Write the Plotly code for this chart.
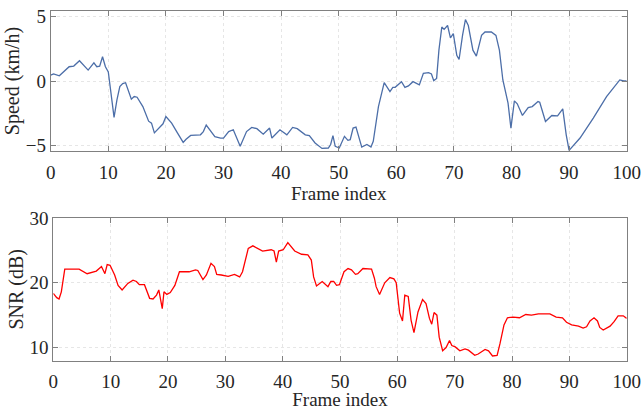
import plotly.graph_objects as go

speed_x = [0, 0.5, 1.5, 2.5, 3.2, 4, 5, 6.5, 7.5, 8, 8.5, 9, 9.5, 10, 10.5, 11, 11.5, 12, 12.5, 13,
           14, 14.5, 15, 16, 17, 17.5, 18, 18.5, 19.5, 20, 21, 22, 23, 23.5, 24.3, 26, 26.5, 27, 28, 28.5,
           29.5, 30, 30.9, 31.7, 32.9, 34, 34.9, 35.8, 36.9, 38, 38.4, 39.8, 41, 42, 42.8, 44.2, 44.9,
           45.9, 47.1, 48.2, 48.6, 49, 49.4, 50.1, 51, 51.6, 52, 52.5, 53, 54, 54.9, 55.6, 56, 56.9,
           57.9, 58.9, 59.4, 59.8, 60.9, 61.5, 62.1, 62.9, 64, 64.7, 65.6, 66.1, 66.5, 67, 67.4, 67.9,
           68.3, 68.9, 69.4, 69.9, 70.5, 70.9, 71.5, 72, 72.5, 73.3, 73.9, 74.8, 75.4, 76.5, 77.3,
           77.9, 78.5, 79.4, 79.9, 80.5, 81, 81.9, 82.9, 83.6, 84.6, 84.9, 85.9, 87, 88, 88.9, 89.5,
           90, 91.9, 94.2, 96.5, 98, 98.8, 99.5, 100]
speed_y = [0.46, 0.54, 0.4, 0.84, 1.1, 1.15, 1.56, 0.84, 1.4, 1.1, 1.15, 1.87, 1.1, 0.7, -0.95, -2.8, -1.45, -0.43, -0.2, -0.13,
           -1.4, -1.2, -1.25, -1.97, -3.1, -3.25, -4.0, -3.75, -3.3, -2.74, -3.25, -4.0, -4.74, -4.5, -4.2, -4.15, -3.9, -3.4, -4.0, -4.3,
           -4.4, -4.4, -3.9, -3.76, -5.04, -3.9, -3.58, -3.68, -4.1, -3.63, -4.4, -3.76, -4.15, -3.58, -3.68, -4.15, -4.22,
           -4.78, -5.2, -5.17, -4.9, -4.22, -5.04, -5.17, -4.27, -4.58, -4.53, -3.63, -3.55, -5.1, -4.9, -5.1, -4.65, -1.97,
           -0.13, -0.82, -0.49, -0.49, -0.05, -0.49, -0.38, -0.05, -0.3, 0.59, 0.64, 0.54, 0.03, 0.2, 2.38, 4.16,
           3.98, 4.28, 3.32, 3.65, 1.98, 1.66, 3.52, 4.74, 4.28, 2.38, 1.92, 3.52, 3.78, 3.78, 3.52,
           2.38, 0.08, -1.71, -3.63, -1.53, -1.76, -2.66, -2.05, -1.97, -1.59, -1.64, -3.12, -2.66, -2.69, -2.15, -4.15,
           -5.35, -4.4, -2.86, -1.2, -0.38, 0.08, 0.0, 0.0]

snr_x = [0, 0.6, 1.0, 1.4, 2.0, 4.5, 5.9, 6.4, 7.5, 8.4, 9.0, 9.4, 9.9, 10.7, 11.3, 12.0, 13.0, 13.9, 14.5, 15.0,
         15.9, 16.8, 17.4, 18.0, 18.4, 19.0, 19.3, 19.8, 20.4, 21.2, 22.0, 23.7, 24.8, 25.2, 26.1, 26.7, 27.5, 28.1,
         28.5, 29.3, 30.5, 31.6, 32.5, 33, 34, 34.8, 36.5, 38, 38.5, 38.9, 39.3, 40.1, 40.9, 42.1, 43.3, 44.4, 45,
         45.4, 45.9, 46.9, 47.9, 48.4, 48.9, 49.4, 49.9, 50.7, 51.4, 52.0, 52.7, 53.1, 54.0, 55.5, 56.0, 56.3, 56.9,
         57.8, 58.7, 59.4, 59.8, 60.4, 60.9, 61.3, 61.9, 62.4, 62.9, 63.6, 64.4, 65.0, 65.6, 66.0, 66.4, 66.9, 67.3,
         67.9, 68.5, 69.1, 69.5, 70.1, 70.9, 71.8, 72.4, 73.5, 74.1, 75.3, 75.9, 76.6, 77.4, 77.9, 78.6, 79.2, 80.2,
         81.3, 82.4, 83.4, 84.6, 86.6, 87.7, 88.8, 89.5, 90.4, 91.6, 92.4, 93.0, 93.6, 94.3, 94.9, 95.3, 95.9, 97.1,
         97.8, 98.5, 99.4, 100]
snr_y = [18.35, 17.7, 17.5, 18.6, 22.1, 22.1, 21.4, 21.5, 21.8, 22.5, 21.4, 22.8, 22.7, 21.2, 19.6, 18.9, 19.9, 20.4, 20.2, 19.7,
         19.7, 17.6, 17.5, 18.1, 18.9, 16.0, 18.6, 18.2, 18.5, 19.6, 21.7, 21.7, 22.0, 21.9, 20.5, 21.2, 23.0, 22.5,
         21.3, 21.2, 21.0, 21.3, 20.9, 21.7, 25.3, 25.7, 24.9, 25.1, 24.9, 23.2, 24.9, 25.1, 26.2, 24.9, 24.4, 24.3, 23.5,
         20.9, 19.5, 20.2, 19.4, 20.2, 20.2, 19.6, 19.7, 21.7, 22.2, 22.0, 21.3, 21.4, 22.2, 22.1, 20.7, 19.4, 18.2,
         20.0, 20.8, 20.6, 20.0, 15.3, 14.1, 18.1, 17.9, 14.2, 12.3, 15.5, 17.4, 16.8, 14.5, 13.6, 15.4, 15.0, 11.6,
         9.5, 10.0, 11.1, 10.3, 10.1, 9.5, 9.8, 9.6, 8.8, 9.0, 9.7, 9.5, 8.7, 8.8, 10.6, 13.5, 14.6, 14.7,
         14.6, 15.1, 15.0, 15.2, 15.2, 14.7, 14.6, 13.9, 13.5, 13.3, 13.0, 13.2, 14.1, 14.6, 14.1, 13.1, 12.7, 13.3,
         14.0, 14.9, 14.9, 14.5]

x_ticks = [0, 10, 20, 30, 40, 50, 60, 70, 80, 90, 100]
speed_ticks = [-5, 0, 5]
snr_ticks = [10, 20, 30]

W, H = 641, 410
FONT = "Liberation Serif, Times New Roman, serif"
AX = "#808080"
TXT = "#262626"
GRID = "#e6e6e6"

fig = go.Figure()
fig.add_trace(go.Scatter(x=speed_x, y=speed_y, mode="lines", xaxis="x", yaxis="y",
                         line=dict(color="#4C6EA8", width=1.3), showlegend=False))
fig.add_trace(go.Scatter(x=snr_x, y=snr_y, mode="lines", xaxis="x2", yaxis="y2",
                         line=dict(color="#FF0000", width=1.3), showlegend=False))

def xax(dom, anchor):
    return dict(domain=dom, anchor=anchor, range=[0, 100], tickvals=x_ticks, automargin=False,
                showline=True, linecolor=AX, linewidth=1, mirror="ticks",
                ticks="inside", ticklen=5, tickcolor=AX, ticklabelstandoff=4,
                showgrid=True, gridcolor=GRID, griddash="dot", gridwidth=1,
                zeroline=False, tickfont=dict(family=FONT, size=19, color=TXT),
                title=dict(text="Frame index", font=dict(family=FONT, size=19, color=TXT), standoff=3))

def yax(dom, anchor, rng, tv, title):
    return dict(domain=dom, anchor=anchor, range=rng, tickvals=tv, automargin=False,
                showline=True, linecolor=AX, linewidth=1, mirror="ticks",
                ticks="inside", ticklen=5, tickcolor=AX,
                showgrid=True, gridcolor=GRID, griddash="dot", gridwidth=1,
                zeroline=False, tickfont=dict(family=FONT, size=19, color=TXT),
                title=dict(text=title, font=dict(family=FONT, size=20, color=TXT), standoff=0))

fig.update_layout(
    width=W, height=H,
    margin=dict(l=0, r=0, t=0, b=0),
    paper_bgcolor="white", plot_bgcolor="white",
    xaxis=xax([50.7 / W, 626.7 / W], "y"),
    yaxis=yax([1 - 151 / H, 1 - 11 / H], "x", [-5.4, 5.4], speed_ticks, "Speed (km/h)"),
    xaxis2=xax([53.3 / W, 626.7 / W], "y2"),
    yaxis2=yax([1 - 360.5 / H, 1 - 218 / H], "x2", [8, 30], snr_ticks, "SNR (dB)"),
)

fig.write_html("out.html", config={"displayModeBar": False},
               post_script="document.body.style.margin='0';document.body.style.overflow='hidden';")
